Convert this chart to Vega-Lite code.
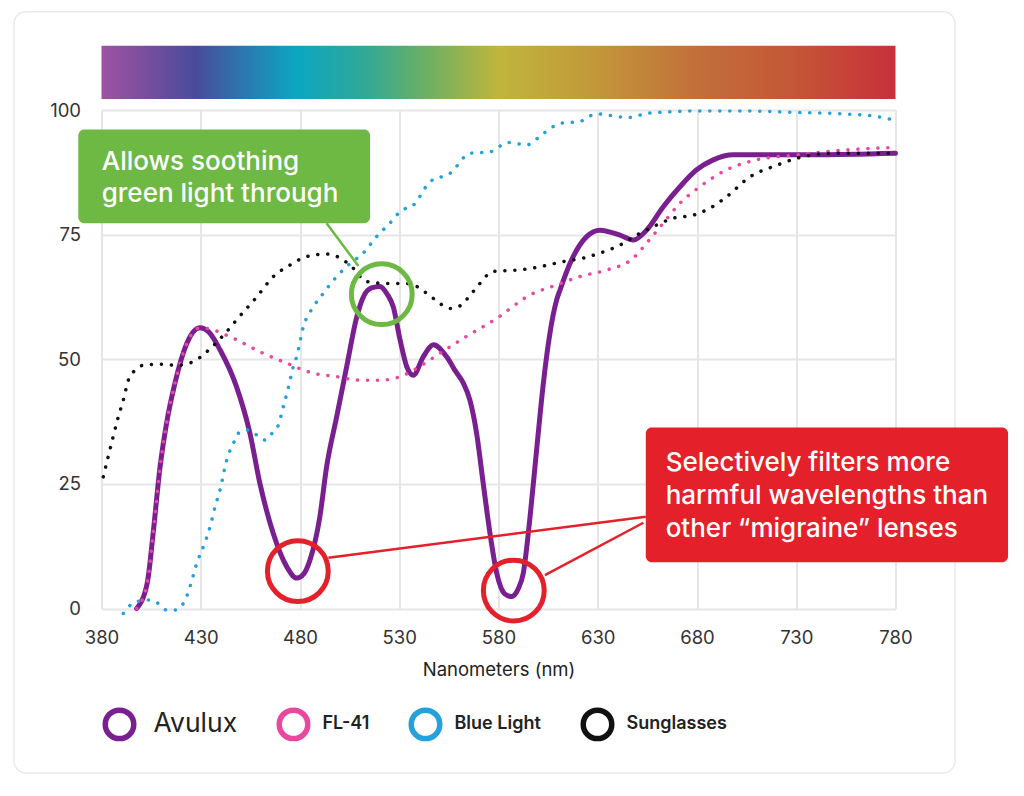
{
  "$schema": "https://vega.github.io/schema/vega-lite/v6.json",
  "width": 794,
  "height": 498.5,
  "autosize": "none",
  "padding": {"left": 101.5, "top": 110, "right": 128.5, "bottom": 187.5},
  "background": "white",
  "config": {"view": {"stroke": null}, "font": "Inter"},
  "datasets": {
    "card": [{"x1": 335.9, "x2": 810, "y1": -33, "y2": 119.7}],
    "spectrum": [{"x1": 380, "x2": 780, "y1": 102.2, "y2": 112.9}],
    "curves": [
      {"series": "Avulux", "nm": 397.7, "t": 0},
      {"series": "Avulux", "nm": 403, "t": 5},
      {"series": "Avulux", "nm": 406, "t": 15},
      {"series": "Avulux", "nm": 409.5, "t": 28.4},
      {"series": "Avulux", "nm": 412.8, "t": 37.2},
      {"series": "Avulux", "nm": 417, "t": 45.2},
      {"series": "Avulux", "nm": 423, "t": 53.2},
      {"series": "Avulux", "nm": 429.6, "t": 56.3},
      {"series": "Avulux", "nm": 434, "t": 55.5},
      {"series": "Avulux", "nm": 439.7, "t": 51.9},
      {"series": "Avulux", "nm": 448, "t": 44.5},
      {"series": "Avulux", "nm": 454.8, "t": 35.1},
      {"series": "Avulux", "nm": 459.8, "t": 25.1},
      {"series": "Avulux", "nm": 466.5, "t": 15.1},
      {"series": "Avulux", "nm": 473.3, "t": 8.4},
      {"series": "Avulux", "nm": 478.3, "t": 6.1},
      {"series": "Avulux", "nm": 482, "t": 7},
      {"series": "Avulux", "nm": 485, "t": 9.7},
      {"series": "Avulux", "nm": 490, "t": 18.4},
      {"series": "Avulux", "nm": 493.4, "t": 28.4},
      {"series": "Avulux", "nm": 498.5, "t": 38.5},
      {"series": "Avulux", "nm": 503.5, "t": 48.5},
      {"series": "Avulux", "nm": 508.6, "t": 58.5},
      {"series": "Avulux", "nm": 511.9, "t": 62.5},
      {"series": "Avulux", "nm": 516, "t": 64.3},
      {"series": "Avulux", "nm": 520.3, "t": 64.6},
      {"series": "Avulux", "nm": 524, "t": 63},
      {"series": "Avulux", "nm": 527, "t": 60.5},
      {"series": "Avulux", "nm": 530.4, "t": 53.9},
      {"series": "Avulux", "nm": 533.8, "t": 48.5},
      {"series": "Avulux", "nm": 537.1, "t": 46.8},
      {"series": "Avulux", "nm": 542.1, "t": 50.5},
      {"series": "Avulux", "nm": 547.2, "t": 52.9},
      {"series": "Avulux", "nm": 553.9, "t": 50.5},
      {"series": "Avulux", "nm": 558.5, "t": 47.5},
      {"series": "Avulux", "nm": 562.3, "t": 45.2},
      {"series": "Avulux", "nm": 565.6, "t": 41.8},
      {"series": "Avulux", "nm": 569, "t": 35.1},
      {"series": "Avulux", "nm": 572.3, "t": 25.1},
      {"series": "Avulux", "nm": 575.7, "t": 15.1},
      {"series": "Avulux", "nm": 579.1, "t": 7.1},
      {"series": "Avulux", "nm": 583, "t": 3},
      {"series": "Avulux", "nm": 586.6, "t": 2.4},
      {"series": "Avulux", "nm": 590, "t": 4},
      {"series": "Avulux", "nm": 592.5, "t": 7.1},
      {"series": "Avulux", "nm": 595.9, "t": 18.4},
      {"series": "Avulux", "nm": 599.2, "t": 31.8},
      {"series": "Avulux", "nm": 602.6, "t": 45.2},
      {"series": "Avulux", "nm": 605.9, "t": 55.2},
      {"series": "Avulux", "nm": 609.3, "t": 61.9},
      {"series": "Avulux", "nm": 611, "t": 63.9},
      {"series": "Avulux", "nm": 616, "t": 69.2},
      {"series": "Avulux", "nm": 624.4, "t": 74.6},
      {"series": "Avulux", "nm": 631.1, "t": 75.9},
      {"series": "Avulux", "nm": 641.2, "t": 74.9},
      {"series": "Avulux", "nm": 647.9, "t": 73.9},
      {"series": "Avulux", "nm": 654.6, "t": 75.9},
      {"series": "Avulux", "nm": 663, "t": 80.6},
      {"series": "Avulux", "nm": 671.4, "t": 84.6},
      {"series": "Avulux", "nm": 679.8, "t": 88},
      {"series": "Avulux", "nm": 688.2, "t": 90},
      {"series": "Avulux", "nm": 698.3, "t": 91},
      {"series": "Avulux", "nm": 713.4, "t": 91},
      {"series": "Avulux", "nm": 738.6, "t": 91},
      {"series": "Avulux", "nm": 780, "t": 91.3},

      {"series": "FL-41", "nm": 397.7, "t": 0},
      {"series": "FL-41", "nm": 403, "t": 5},
      {"series": "FL-41", "nm": 406, "t": 15},
      {"series": "FL-41", "nm": 409.5, "t": 28.4},
      {"series": "FL-41", "nm": 412.8, "t": 37.2},
      {"series": "FL-41", "nm": 417, "t": 45.2},
      {"series": "FL-41", "nm": 423, "t": 53.2},
      {"series": "FL-41", "nm": 429.6, "t": 56.3},
      {"series": "FL-41", "nm": 433, "t": 56.2},
      {"series": "FL-41", "nm": 446.4, "t": 54.2},
      {"series": "FL-41", "nm": 459.8, "t": 51.5},
      {"series": "FL-41", "nm": 473.3, "t": 49.2},
      {"series": "FL-41", "nm": 486.7, "t": 47.2},
      {"series": "FL-41", "nm": 498.5, "t": 46.5},
      {"series": "FL-41", "nm": 510.2, "t": 45.8},
      {"series": "FL-41", "nm": 520.3, "t": 45.8},
      {"series": "FL-41", "nm": 530.4, "t": 46.5},
      {"series": "FL-41", "nm": 537.1, "t": 47.8},
      {"series": "FL-41", "nm": 550.5, "t": 51.2},
      {"series": "FL-41", "nm": 562.3, "t": 54.2},
      {"series": "FL-41", "nm": 579.1, "t": 58.2},
      {"series": "FL-41", "nm": 595.9, "t": 62.9},
      {"series": "FL-41", "nm": 609.3, "t": 64.9},
      {"series": "FL-41", "nm": 621.1, "t": 66.6},
      {"series": "FL-41", "nm": 634.5, "t": 67.9},
      {"series": "FL-41", "nm": 647.9, "t": 70.3},
      {"series": "FL-41", "nm": 654.6, "t": 73.3},
      {"series": "FL-41", "nm": 663, "t": 77.3},
      {"series": "FL-41", "nm": 671.4, "t": 81.3},
      {"series": "FL-41", "nm": 681.4, "t": 84.6},
      {"series": "FL-41", "nm": 694.9, "t": 88},
      {"series": "FL-41", "nm": 710, "t": 90},
      {"series": "FL-41", "nm": 730.2, "t": 91},
      {"series": "FL-41", "nm": 755.4, "t": 92},
      {"series": "FL-41", "nm": 780, "t": 92.5},

      {"series": "Blue Light", "nm": 391, "t": -1},
      {"series": "Blue Light", "nm": 395.2, "t": 0.9},
      {"series": "Blue Light", "nm": 399, "t": 1.5},
      {"series": "Blue Light", "nm": 403.6, "t": 1.7},
      {"series": "Blue Light", "nm": 408.6, "t": 1.0},
      {"series": "Blue Light", "nm": 412.8, "t": -0.3},
      {"series": "Blue Light", "nm": 417, "t": -0.3},
      {"series": "Blue Light", "nm": 421.2, "t": 1.0},
      {"series": "Blue Light", "nm": 424.6, "t": 4.4},
      {"series": "Blue Light", "nm": 428, "t": 9.1},
      {"series": "Blue Light", "nm": 431.3, "t": 12.4},
      {"series": "Blue Light", "nm": 434.7, "t": 16.4},
      {"series": "Blue Light", "nm": 437.2, "t": 20.4},
      {"series": "Blue Light", "nm": 439.7, "t": 23.8},
      {"series": "Blue Light", "nm": 443.1, "t": 29.8},
      {"series": "Blue Light", "nm": 447.3, "t": 33.8},
      {"series": "Blue Light", "nm": 449.8, "t": 35.5},
      {"series": "Blue Light", "nm": 454, "t": 35.8},
      {"series": "Blue Light", "nm": 458.2, "t": 34.8},
      {"series": "Blue Light", "nm": 462.4, "t": 33.8},
      {"series": "Blue Light", "nm": 466.6, "t": 35.5},
      {"series": "Blue Light", "nm": 469.1, "t": 36.8},
      {"series": "Blue Light", "nm": 471.6, "t": 40.5},
      {"series": "Blue Light", "nm": 474.1, "t": 44.2},
      {"series": "Blue Light", "nm": 476.6, "t": 48.5},
      {"series": "Blue Light", "nm": 478.3, "t": 50.5},
      {"series": "Blue Light", "nm": 481.7, "t": 56.5},
      {"series": "Blue Light", "nm": 486.7, "t": 60.5},
      {"series": "Blue Light", "nm": 491.7, "t": 63.2},
      {"series": "Blue Light", "nm": 498.5, "t": 66.6},
      {"series": "Blue Light", "nm": 505.2, "t": 69.2},
      {"series": "Blue Light", "nm": 511.9, "t": 71.3},
      {"series": "Blue Light", "nm": 518.6, "t": 74.6},
      {"series": "Blue Light", "nm": 525.3, "t": 77.3},
      {"series": "Blue Light", "nm": 531, "t": 79.8},
      {"series": "Blue Light", "nm": 537.1, "t": 80.9},
      {"series": "Blue Light", "nm": 545.5, "t": 85.6},
      {"series": "Blue Light", "nm": 555.6, "t": 87.3},
      {"series": "Blue Light", "nm": 565.6, "t": 91.3},
      {"series": "Blue Light", "nm": 575.7, "t": 91.6},
      {"series": "Blue Light", "nm": 584.9, "t": 93.5},
      {"series": "Blue Light", "nm": 594.2, "t": 93},
      {"series": "Blue Light", "nm": 602.6, "t": 95.3},
      {"series": "Blue Light", "nm": 611, "t": 97.3},
      {"series": "Blue Light", "nm": 621.1, "t": 97.7},
      {"series": "Blue Light", "nm": 626.1, "t": 98.8},
      {"series": "Blue Light", "nm": 630.3, "t": 99.2},
      {"series": "Blue Light", "nm": 637.8, "t": 98.8},
      {"series": "Blue Light", "nm": 645.4, "t": 98.5},
      {"series": "Blue Light", "nm": 654.6, "t": 99.3},
      {"series": "Blue Light", "nm": 664.7, "t": 99.6},
      {"series": "Blue Light", "nm": 679.8, "t": 99.8},
      {"series": "Blue Light", "nm": 705, "t": 99.8},
      {"series": "Blue Light", "nm": 730.2, "t": 99.5},
      {"series": "Blue Light", "nm": 755.4, "t": 99.2},
      {"series": "Blue Light", "nm": 768.8, "t": 98.8},
      {"series": "Blue Light", "nm": 780, "t": 97.9},

      {"series": "Sunglasses", "nm": 380.9, "t": 26.4},
      {"series": "Sunglasses", "nm": 383.4, "t": 30.5},
      {"series": "Sunglasses", "nm": 385.9, "t": 34.5},
      {"series": "Sunglasses", "nm": 388.5, "t": 38.5},
      {"series": "Sunglasses", "nm": 391, "t": 41.8},
      {"series": "Sunglasses", "nm": 393.5, "t": 45.8},
      {"series": "Sunglasses", "nm": 396.9, "t": 47.8},
      {"series": "Sunglasses", "nm": 401.1, "t": 48.8},
      {"series": "Sunglasses", "nm": 409.5, "t": 49},
      {"series": "Sunglasses", "nm": 417.9, "t": 48.8},
      {"series": "Sunglasses", "nm": 426.2, "t": 49.5},
      {"series": "Sunglasses", "nm": 433, "t": 51.5},
      {"series": "Sunglasses", "nm": 441.4, "t": 54.8},
      {"series": "Sunglasses", "nm": 449.8, "t": 58.7},
      {"series": "Sunglasses", "nm": 458.2, "t": 62.5},
      {"series": "Sunglasses", "nm": 466.6, "t": 66.6},
      {"series": "Sunglasses", "nm": 475, "t": 68.9},
      {"series": "Sunglasses", "nm": 483.4, "t": 70.6},
      {"series": "Sunglasses", "nm": 493.5, "t": 71.1},
      {"series": "Sunglasses", "nm": 500.2, "t": 70.3},
      {"series": "Sunglasses", "nm": 505.2, "t": 68.9},
      {"series": "Sunglasses", "nm": 513.6, "t": 65.6},
      {"series": "Sunglasses", "nm": 523.7, "t": 65.2},
      {"series": "Sunglasses", "nm": 533.8, "t": 65.2},
      {"series": "Sunglasses", "nm": 538.8, "t": 64.6},
      {"series": "Sunglasses", "nm": 547.2, "t": 62.2},
      {"series": "Sunglasses", "nm": 555.6, "t": 60.2},
      {"series": "Sunglasses", "nm": 560.6, "t": 60.7},
      {"series": "Sunglasses", "nm": 567.3, "t": 63.6},
      {"series": "Sunglasses", "nm": 577.4, "t": 67.6},
      {"series": "Sunglasses", "nm": 592.5, "t": 68},
      {"series": "Sunglasses", "nm": 602.6, "t": 68.7},
      {"series": "Sunglasses", "nm": 612.7, "t": 69.6},
      {"series": "Sunglasses", "nm": 622.7, "t": 70.3},
      {"series": "Sunglasses", "nm": 631.1, "t": 71.3},
      {"series": "Sunglasses", "nm": 641.2, "t": 72.9},
      {"series": "Sunglasses", "nm": 649.6, "t": 74.9},
      {"series": "Sunglasses", "nm": 658, "t": 76.6},
      {"series": "Sunglasses", "nm": 668.1, "t": 78.3},
      {"series": "Sunglasses", "nm": 678.1, "t": 78.9},
      {"series": "Sunglasses", "nm": 686.5, "t": 80.3},
      {"series": "Sunglasses", "nm": 694.9, "t": 82.6},
      {"series": "Sunglasses", "nm": 706.7, "t": 86.6},
      {"series": "Sunglasses", "nm": 720.1, "t": 88.9},
      {"series": "Sunglasses", "nm": 730.2, "t": 90.3},
      {"series": "Sunglasses", "nm": 747, "t": 91.3},
      {"series": "Sunglasses", "nm": 780, "t": 91.3}
    ],
    "boxes": [
      {"kind": "green", "x1": 368.3, "x2": 515.3, "y1": 77.3, "y2": 96.1},
      {"kind": "red", "x1": 654.2, "x2": 836.7, "y1": 9.3, "y2": 36.3}
    ],
    "pointers": [
      {"kind": "green", "x": 493.4, "y": 77.3, "x2": 509.4, "y2": 68.7},
      {"kind": "red", "x": 494.3, "y": 10.2, "x2": 654.2, "y2": 18.4},
      {"kind": "red", "x": 603.4, "y": 6.7, "x2": 653, "y2": 17.2}
    ],
    "rings": [
      {"kind": "green", "nm": 521.2, "t": 63.05},
      {"kind": "red", "nm": 478.9, "t": 7.5},
      {"kind": "red", "nm": 587.7, "t": 3.6}
    ],
    "notes": [
      {"nm": 380.1, "t": 87.96, "text": "Allows soothing"},
      {"nm": 380.1, "t": 81.54, "text": "green light through"},
      {"nm": 664.2, "t": 27.64, "text": "Selectively filters more"},
      {"nm": 664.2, "t": 21.06, "text": "harmful wavelengths than"},
      {"nm": 664.2, "t": 14.44, "text": "other “migraine” lenses"}
    ]
  },
  "layer": [
    {
      "data": {"name": "curves"},
      "transform": [{"filter": "datum.series === 'Avulux'"}],
      "mark": {"type": "line", "interpolate": "monotone", "strokeWidth": 5, "strokeCap": "round", "strokeJoin": "round"},
      "encoding": {
        "x": {
          "field": "nm", "type": "quantitative",
          "scale": {"domain": [380, 780], "nice": false, "zero": false},
          "axis": {
            "values": [380, 430, 480, 530, 580, 630, 680, 730, 780],
            "title": "Nanometers (nm)",
            "grid": true, "gridColor": "#e6e6e6", "gridWidth": 2,
            "domain": false, "ticks": false, "tickSize": 0, "labelFlush": false,
            "labelFont": "Inter", "labelFontSize": 18.5, "labelColor": "#333333", "labelPadding": 20,
            "titleFont": "Inter", "titleFontSize": 18.5, "titleFontWeight": "normal", "titleColor": "#222222",
            "titleBaseline": "alphabetic", "titleY": 66.5
          }
        },
        "y": {
          "field": "t", "type": "quantitative",
          "scale": {"domain": [0, 100], "nice": false, "zero": false},
          "axis": {
            "values": [0, 25, 50, 75, 100],
            "title": null,
            "grid": true, "gridColor": "#e6e6e6", "gridWidth": 2,
            "domain": false, "ticks": false, "tickSize": 0, "labelFlush": false,
            "labelFont": "Inter", "labelFontSize": 18.5, "labelColor": "#333333", "labelPadding": 21
          }
        },
        "color": {
          "field": "series", "type": "nominal",
          "scale": {"domain": ["Avulux", "FL-41", "Blue Light", "Sunglasses"], "range": ["#7a1f90", "#e8489d", "#24a0da", "#111111"]},
          "legend": {
            "orient": "none", "legendX": 1, "legendY": 597, "direction": "horizontal",
            "title": null, "padding": 0,
            "symbolType": "circle", "symbolSize": 812, "symbolStrokeWidth": 5.5,
            "labelFont": "Inter", "labelFontSize": 18, "labelFontWeight": 600, "labelColor": "#222222",
            "labelOffset": 12, "columnPadding": 30, "labelLimit": 300,
            "encode": {
              "symbols": {"update": {"fill": {"value": "white"}, "strokeDash": {"value": []}, "strokeWidth": {"value": 5.5}, "opacity": {"value": 1}}},
              "labels": {"update": {
                "fontSize": {"signal": "datum.label === 'Avulux' ? 26.5 : 18"},
                "fontWeight": {"signal": "datum.label === 'Avulux' ? 400 : 600"},
                "dx": {"signal": "datum.label === 'Avulux' ? 5 : 0"}
              }}
            }
          }
        }
      }
    },
    {
      "data": {"name": "card"},
      "mark": {"type": "rect", "fill": null, "stroke": "#e9e9e9", "strokeWidth": 1.5, "cornerRadius": 12},
      "encoding": {
        "x": {"field": "x1", "type": "quantitative"},
        "x2": {"field": "x2"},
        "y": {"field": "y1", "type": "quantitative"},
        "y2": {"field": "y2"}
      }
    },
    {
      "data": {"name": "spectrum"},
      "mark": {
        "type": "rect",
        "fill": {
          "gradient": "linear", "x1": 0, "y1": 0, "x2": 1, "y2": 0,
          "stops": [
            {"offset": 0, "color": "#a052a2"},
            {"offset": 0.118, "color": "#4a4b9b"},
            {"offset": 0.181, "color": "#2a79b0"},
            {"offset": 0.244, "color": "#0ba6c1"},
            {"offset": 0.328, "color": "#2fa898"},
            {"offset": 0.411, "color": "#6eb062"},
            {"offset": 0.5, "color": "#c0b53c"},
            {"offset": 0.621, "color": "#c2983a"},
            {"offset": 0.747, "color": "#c2703a"},
            {"offset": 0.873, "color": "#c45637"},
            {"offset": 1, "color": "#c8303a"}
          ]
        }
      },
      "encoding": {
        "x": {"field": "x1", "type": "quantitative"},
        "x2": {"field": "x2"},
        "y": {"field": "y1", "type": "quantitative"},
        "y2": {"field": "y2"}
      }
    },
    {
      "data": {"name": "curves"},
      "transform": [{"filter": "datum.series !== 'Avulux'"}],
      "mark": {"type": "line", "interpolate": "monotone", "strokeWidth": 3.5, "strokeCap": "round", "strokeDash": [0.1, 9.9]},
      "encoding": {
        "x": {"field": "nm", "type": "quantitative"},
        "y": {"field": "t", "type": "quantitative"},
        "color": {"field": "series", "type": "nominal"}
      }
    },
    {
      "data": {"name": "boxes"},
      "mark": {"type": "rect", "cornerRadius": 6},
      "encoding": {
        "x": {"field": "x1", "type": "quantitative"},
        "x2": {"field": "x2"},
        "y": {"field": "y1", "type": "quantitative"},
        "y2": {"field": "y2"},
        "fill": {"field": "kind", "type": "nominal", "scale": {"domain": ["green", "red"], "range": ["#6db944", "#e4202a"]}, "legend": null}
      }
    },
    {
      "data": {"name": "pointers"},
      "mark": {"type": "rule", "strokeWidth": 2.5},
      "encoding": {
        "x": {"field": "x", "type": "quantitative"},
        "y": {"field": "y", "type": "quantitative"},
        "x2": {"field": "x2"},
        "y2": {"field": "y2"},
        "stroke": {"field": "kind", "type": "nominal", "scale": {"domain": ["green", "red"], "range": ["#6db944", "#e4202a"]}, "legend": null}
      }
    },
    {
      "data": {"name": "rings"},
      "mark": {"type": "point", "shape": "circle", "filled": false, "size": 3700, "strokeWidth": 5, "opacity": 1},
      "encoding": {
        "x": {"field": "nm", "type": "quantitative"},
        "y": {"field": "t", "type": "quantitative"},
        "stroke": {"field": "kind", "type": "nominal", "legend": null}
      }
    },
    {
      "data": {"name": "notes"},
      "mark": {"type": "text", "align": "left", "baseline": "alphabetic", "font": "Inter", "fontSize": 26, "fontWeight": 500, "color": "white"},
      "encoding": {
        "x": {"field": "nm", "type": "quantitative"},
        "y": {"field": "t", "type": "quantitative"},
        "text": {"field": "text", "type": "nominal"}
      }
    }
  ]
}
